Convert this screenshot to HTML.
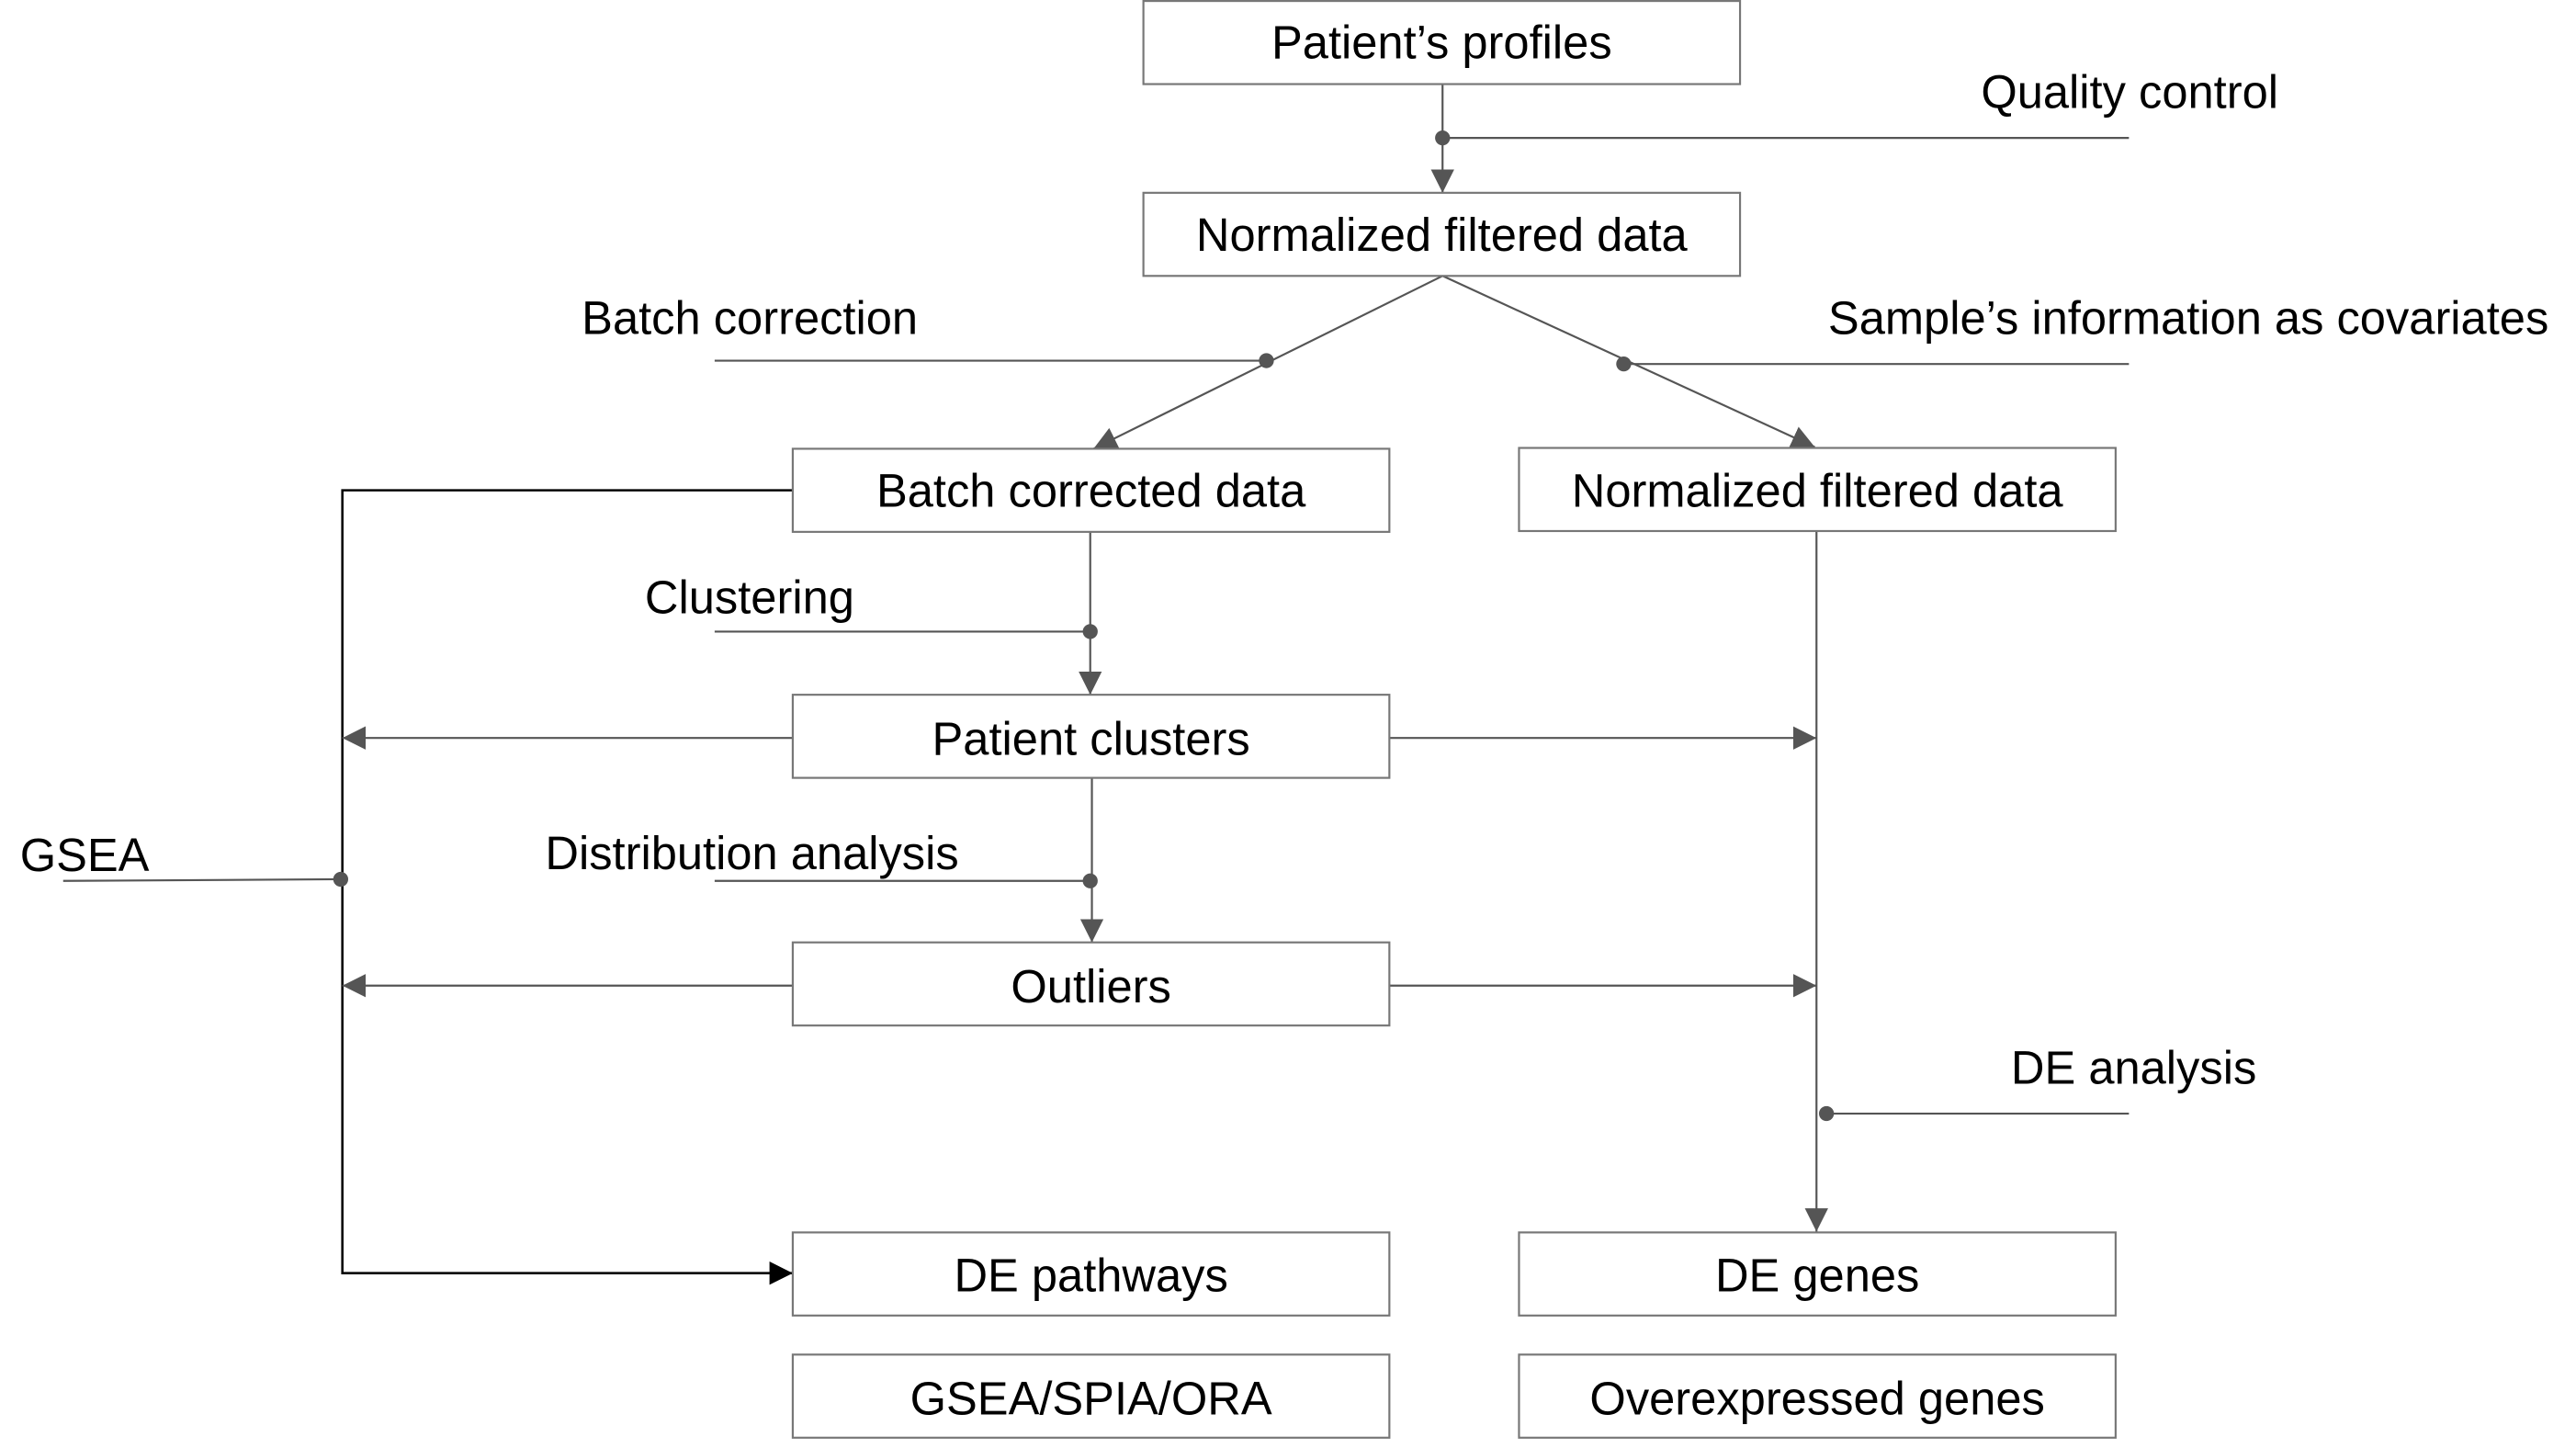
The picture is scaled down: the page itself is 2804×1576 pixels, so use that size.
<!DOCTYPE html>
<html><head><meta charset="utf-8"><style>
html,body{margin:0;padding:0;background:#fff;}
svg{display:block;}
text{font-family:"Liberation Sans",Arial,sans-serif;font-size:28px;fill:#000;}
.box{fill:#fff;stroke:#777;stroke-width:1.2;}
.ln{stroke:#555;stroke-width:1.2;fill:none;}
.lb{stroke:#000;stroke-width:1.4;fill:none;}
.dot{fill:#555;}
</style></head><body>
<svg width="2804" height="1576" viewBox="0 0 1550 871.2">
<defs>
<marker id="a" viewBox="0 0 10 10" refX="10" refY="5" markerWidth="14" markerHeight="14" markerUnits="userSpaceOnUse" orient="auto"><path d="M0,0L10,5L0,10z" fill="#555"/></marker>
<marker id="b" viewBox="0 0 10 10" refX="10" refY="5" markerWidth="14" markerHeight="14" markerUnits="userSpaceOnUse" orient="auto"><path d="M0,0L10,5L0,10z" fill="#000"/></marker>
</defs>
<g>
<line class="ln" x1="868" y1="50" x2="868" y2="116" marker-end="url(#a)"/>
<line class="ln" x1="868" y1="83" x2="1281" y2="83"/>
<circle class="dot" cx="868" cy="83" r="4.5"/>
<line class="ln" x1="868" y1="166" x2="658" y2="270" marker-end="url(#a)"/>
<line class="ln" x1="430" y1="217" x2="762" y2="217"/>
<circle class="dot" cx="762" cy="217" r="4.5"/>
<line class="ln" x1="868" y1="166" x2="1092" y2="269" marker-end="url(#a)"/>
<line class="ln" x1="977" y1="219" x2="1281" y2="219"/>
<circle class="dot" cx="977" cy="219" r="4.5"/>
<polyline class="lb" points="477,295 206,295 206,766 477,766" marker-end="url(#b)"/>
<line class="ln" x1="477" y1="444" x2="206" y2="444" marker-end="url(#a)"/>
<line class="ln" x1="477" y1="593" x2="206" y2="593" marker-end="url(#a)"/>
<line class="ln" x1="38" y1="530" x2="205" y2="529"/>
<circle class="dot" cx="205" cy="529" r="4.5"/>
<line class="ln" x1="656" y1="320" x2="656" y2="418" marker-end="url(#a)"/>
<line class="ln" x1="430" y1="380" x2="656" y2="380"/>
<circle class="dot" cx="656" cy="380" r="4.5"/>
<line class="ln" x1="657" y1="468" x2="657" y2="567" marker-end="url(#a)"/>
<line class="ln" x1="430" y1="530" x2="656" y2="530"/>
<circle class="dot" cx="656" cy="530" r="4.5"/>
<line class="ln" x1="1093" y1="320" x2="1093" y2="741" marker-end="url(#a)"/>
<line class="ln" x1="836" y1="444" x2="1093" y2="444" marker-end="url(#a)"/>
<line class="ln" x1="836" y1="593" x2="1093" y2="593" marker-end="url(#a)"/>
<line class="ln" x1="1099" y1="670" x2="1281" y2="670"/>
<circle class="dot" cx="1099" cy="670" r="4.5"/>
</g>
<g><rect class="box" x="688" y="0.6" width="359" height="50"/><text x="867.5" y="35" text-anchor="middle">Patient’s profiles</text></g>
<g><rect class="box" x="688" y="116" width="359" height="50"/><text x="867.5" y="151" text-anchor="middle">Normalized filtered data</text></g>
<g><rect class="box" x="477" y="270" width="359" height="50"/><text x="656.5" y="305" text-anchor="middle">Batch corrected data</text></g>
<g><rect class="box" x="914" y="269.5" width="359" height="50"/><text x="1093.5" y="305" text-anchor="middle">Normalized filtered data</text></g>
<g><rect class="box" x="477" y="418" width="359" height="50"/><text x="656.5" y="454" text-anchor="middle">Patient clusters</text></g>
<g><rect class="box" x="477" y="567" width="359" height="50"/><text x="656.5" y="603" text-anchor="middle">Outliers</text></g>
<g><rect class="box" x="477" y="741.5" width="359" height="50"/><text x="656.5" y="777" text-anchor="middle">DE pathways</text></g>
<g><rect class="box" x="477" y="815" width="359" height="50"/><text x="656.5" y="851" text-anchor="middle">GSEA/SPIA/ORA</text></g>
<g><rect class="box" x="914" y="741.5" width="359" height="50"/><text x="1093.5" y="777" text-anchor="middle">DE genes</text></g>
<g><rect class="box" x="914" y="815" width="359" height="50"/><text x="1093.5" y="851" text-anchor="middle">Overexpressed genes</text></g>
<text x="1192" y="65">Quality control</text>
<text x="350" y="201">Batch correction</text>
<text x="1100" y="201">Sample’s information as covariates</text>
<text x="388" y="369">Clustering</text>
<text x="328" y="523">Distribution analysis</text>
<text x="12" y="524">GSEA</text>
<text x="1210" y="652">DE analysis</text>
</svg>
</body></html>
